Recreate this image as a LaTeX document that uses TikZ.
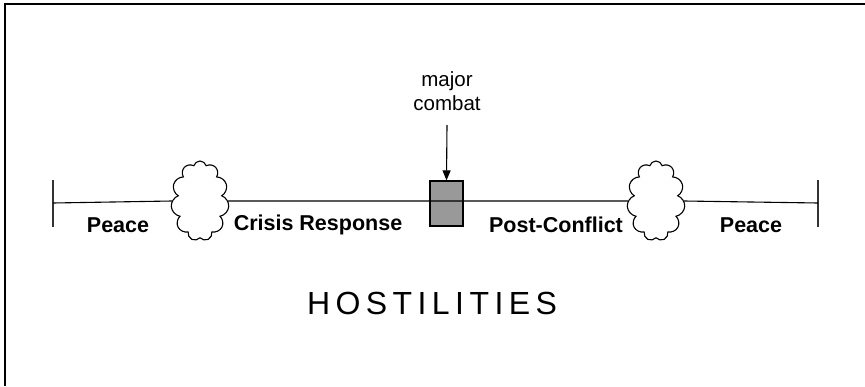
\documentclass[tikz,border=0pt]{standalone}
\usepackage{fontspec}
\setmainfont{Liberation Sans}
\usetikzlibrary{shapes.symbols,arrows.meta}
\begin{document}
\begin{tikzpicture}[x=1pt, y=-1pt,
        phase/.style={font=\fontsize{21.5}{24}\selectfont\bfseries, inner sep=0pt},
        puff/.style={cloud, draw, line width=1.1pt, cloud puffs=11, aspect=0.7,
                     minimum width=58pt, minimum height=80pt, inner sep=0pt, fill=white},
        combat/.style={rectangle, draw, line width=1.2pt, fill=black!40,
                     minimum width=33pt, minimum height=45pt, inner sep=0pt},
        arrow/.style={draw, -{Triangle[length=10pt, width=8pt]}, line width=1.1pt},
        tick/.style={draw, line width=1.6pt, black!80}
    ]
    \useasboundingbox (0,0) rectangle (865,386);
    % frame on top and left
    \draw[line width=2pt] (865,4) -- (5,4) -- (5,386);

    % time line with its two ends
    \coordinate (startTop) at (53,180);
    \coordinate (startBot) at (53,227);
    \coordinate (endTop) at (818,180);
    \coordinate (endBot) at (818,227);
    \coordinate (start) at (53,203);
    \coordinate (end) at (818,203);
    \draw[tick] (startTop) -- (startBot);
    \draw[tick] (endTop) -- (endBot);

    \node[puff] (cloudA) at (200,201) {};
    \node[puff] (cloudB) at (656,201) {};
    \node[combat] (box) at (446.5,203.5) {};

    \draw[line width=1.1pt] (start) -- (cloudA.west);
    \draw[line width=1.1pt] (cloudA.east) -- (cloudB.west);
    \draw[line width=1.1pt] (cloudB.east) -- (end);

    % major combat
    \node[font=\fontsize{20.5}{24}\selectfont, align=center] (major) at (447,91) {major\\combat};
    \coordinate (arrowtop) at (447,125);
    \draw[arrow] (arrowtop) -- (box.north);

    % phase labels
    \node[phase] (peaceA) at (118,225) {Peace};
    \node[phase] (crisis) at (318,225) {Crisis Response};
    \node[phase] (post) at (556,225) {Post-Conflict};
    \node[phase] (peaceB) at (751,225) {Peace};

    \node[font=\fontsize{32}{36}\selectfont\addfontfeature{LetterSpace=17}] (host) at (432,303) {HOSTILITIES};
\end{tikzpicture}
\end{document}
